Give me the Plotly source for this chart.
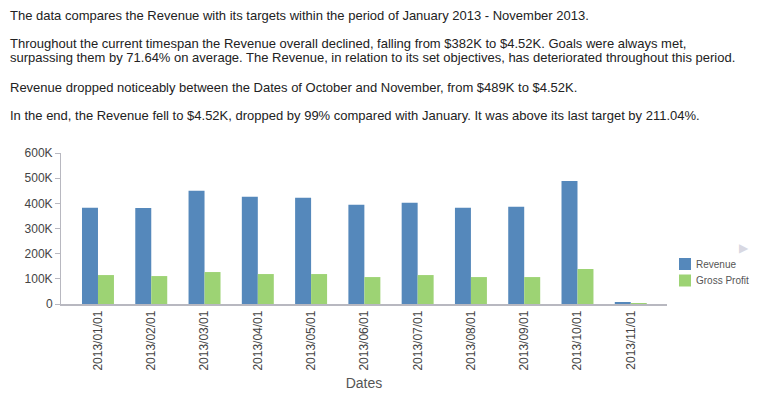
import plotly.graph_objects as go

dates = ["2013/01/01", "2013/02/01", "2013/03/01", "2013/04/01", "2013/05/01", "2013/06/01",
         "2013/07/01", "2013/08/01", "2013/09/01", "2013/10/01", "2013/11/01"]
revenue = [382000, 381000, 450000, 426000, 422000, 394000, 402000, 382000, 386000, 489000, 4520]
gross_profit = [115000, 111000, 127000, 119000, 119000, 107000, 115000, 107000, 107000, 139000, 1450]
series_names = ["Revenue", "Gross Profit"]
series_colors = ["#5588bb", "#9dd374"]
ytick_vals = [0, 100000, 200000, 300000, 400000, 500000, 600000]
ytick_text = ["0", "100K", "200K", "300K", "400K", "500K", "600K"]

paragraph_lines = [
    "The data compares the Revenue with its targets within the period of January 2013 - November 2013.",
    "Throughout the current timespan the Revenue overall declined, falling from $382K to $4.52K. Goals were always met,",
    "surpassing them by 71.64% on average. The Revenue, in relation to its set objectives, has deteriorated throughout this period.",
    "Revenue dropped noticeably between the Dates of October and November, from $489K to $4.52K.",
    "In the end, the Revenue fell to $4.52K, dropped by 99% compared with January. It was above its last target by 211.04%.",
]
line_y_px = [15, 43, 58, 87, 115]

FONT = "Liberation Sans, Arial, sans-serif"
OFF = 8  # page body margin offset
L, R, T, B = 61 - OFF, 667 - OFF, 153 - OFF, 304 - OFF
W, H = 760 - 2 * OFF, 399 - 2 * OFF


def px(x):
    return (x - OFF - L) / (R - L)


def py(y):
    return (B - (y - OFF)) / (B - T)


fig = go.Figure()
for name, vals, col in zip(series_names, [revenue, gross_profit], series_colors):
    fig.add_trace(go.Bar(x=list(range(len(dates))), y=vals, name=name, marker_color=col,
                         marker_line_width=0, showlegend=False))

annotations = []
for txt, yy in zip(paragraph_lines, line_y_px):
    annotations.append(dict(text=txt, xref="paper", yref="paper",
                            x=px(OFF), y=py(yy), xanchor="left", yanchor="middle", showarrow=False,
                            font=dict(family=FONT, size=13, color="#222222")))
annotations.append(dict(text="▶", xref="paper", yref="paper",
                        x=px(744), y=py(248), xanchor="center", yanchor="middle", showarrow=False,
                        font=dict(family="DejaVu Sans", size=12, color="#d8d8e2")))

shapes = []
legend_y = [264, 280.5]
for name, col, ly in zip(series_names, series_colors, legend_y):
    shapes.append(dict(type="rect", xref="paper", yref="paper",
                       x0=px(679), x1=px(691), y0=py(ly - 6), y1=py(ly + 6),
                       fillcolor=col, line_width=0))
    annotations.append(dict(text=name, xref="paper", yref="paper",
                            x=px(694), y=py(ly), xanchor="left", yanchor="middle", showarrow=False,
                            font=dict(family=FONT, size=10, color="#555555")))

fig.update_layout(
    width=W, height=H,
    margin=dict(l=L, r=W - R, t=T, b=H - B, pad=0, autoexpand=False),
    paper_bgcolor="white", plot_bgcolor="white",
    barmode="group", bargap=0.4, bargroupgap=0,
    showlegend=False,
    annotations=annotations,
    shapes=shapes,
    font=dict(family=FONT),
)
fig.update_xaxes(
    tickmode="array", tickvals=list(range(len(dates))), ticktext=dates,
    tickangle=-90, range=[-0.694, 10.68], automargin=False,
    showline=True, linecolor="#b8b8c0", linewidth=1.5, showgrid=False, ticks="",
    tickfont=dict(family=FONT, size=12, color="#444444"),
    title=dict(text="Dates", font=dict(family=FONT, size=14, color="#555555"), standoff=10),
)
fig.update_yaxes(
    range=[0, 600000], tickmode="array", tickvals=ytick_vals, ticktext=ytick_text,
    automargin=False,
    showline=True, linecolor="#b8b8c0", linewidth=1, showgrid=False, zeroline=False,
    ticks="outside", ticklen=5, tickcolor="#b8b8c0",
    tickfont=dict(family=FONT, size=12, color="#444444"),
)
fig.write_html("out.html")
